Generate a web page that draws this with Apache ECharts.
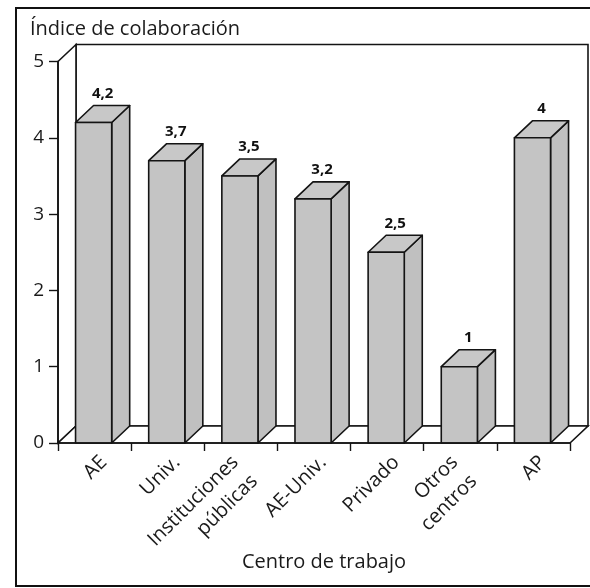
<!DOCTYPE html>
<html><head><meta charset="utf-8">
<script src="https://cdn.jsdelivr.net/npm/echarts@6/dist/echarts.min.js"></script>
<style>html,body{margin:0;padding:0;background:#fff}#c{width:590px;height:588px}</style>
</head><body><div id="c"></div>
<script>
// ---- data ----
const categories = ['AE', 'Univ.', 'Instituciones\npúblicas', 'AE-Univ.', 'Privado', 'Otros\ncentros', 'AP'];
const values = [4.2, 3.7, 3.5, 3.2, 2.5, 1, 4];
const valueLabels = ['4,2', '3,7', '3,5', '3,2', '2,5', '1', '4'];
const yMin = 0, yMax = 5, yStep = 1;
const titleText = 'Índice de colaboración';
const xName = 'Centro de trabajo';

// ---- style ----
const DX = 18, DY = 17;
const LINE = '#141414';
const LW = 1.6;
const FONT = '"Open Sans", "DejaVu Sans", sans-serif';

const chart = echarts.init(document.getElementById('c'), null, {renderer: 'canvas'});

function renderFrame(params, api) {
  const cs = params.coordSys;
  const x0 = cs.x, x1 = cs.x + cs.width, yb = cs.y + cs.height, yt = cs.y;
  const st = {fill: '#fff', stroke: LINE, lineWidth: LW};
  return {type: 'group', children: [
    {type: 'polygon', shape: {points: [[x0 + DX, yt - DY], [x1 + DX, yt - DY], [x1 + DX, yb - DY], [x0 + DX, yb - DY]]}, style: st},
    {type: 'polygon', shape: {points: [[x0, yt], [x0 + DX, yt - DY], [x0 + DX, yb - DY], [x0, yb]]}, style: st},
    {type: 'polygon', shape: {points: [[x0, yb], [x1, yb], [x1 + DX, yb - DY], [x0 + DX, yb - DY]]}, style: st}
  ]};
}

function renderBar(params, api) {
  const idx = api.value(0);
  const v = api.value(1);
  const base = api.coord([idx, 0]);
  const top = api.coord([idx, v]);
  const band = api.size([1, 0])[0];
  const fw = band * 0.494;
  const fl = base[0] - band * 0.26;
  const fr = fl + fw;
  const yb = base[1], yt = top[1];
  const st = {stroke: LINE, lineWidth: LW, lineJoin: 'round'};
  return {type: 'group', children: [
    {type: 'polygon', shape: {points: [[fr, yb], [fr + DX, yb - DY], [fr + DX, yt - DY], [fr, yt]]}, style: Object.assign({fill: '#c0c0c0'}, st)},
    {type: 'polygon', shape: {points: [[fl, yt], [fr, yt], [fr + DX, yt - DY], [fl + DX, yt - DY]]}, style: Object.assign({fill: '#c8c8c8'}, st)},
    {type: 'rect', shape: {x: fl, y: yt, width: fw, height: yb - yt}, style: Object.assign({fill: '#c4c4c4'}, st)},
    {type: 'text', style: {text: valueLabels[idx], x: (fl + fr) / 2 + DX / 2, y: yt - DY - 12,
      align: 'center', verticalAlign: 'middle', fontSize: 15, fontWeight: 'bold', fontFamily: FONT, fill: '#111'}}
  ]};
}

// two-line category labels: first line box kept short so the block sits like the reference
function labelFormatter(value) {
  const lines = value.split('\n');
  if (lines.length === 1) return value;
  return '{l1|' + lines[0] + '  }\n{l2|' + lines[1] + '  }';
}

chart.setOption({
  animation: false,
  backgroundColor: '#fff',
  title: {text: titleText, left: 25, top: 14, textStyle: {fontSize: 20, fontWeight: 'normal', color: '#1a1a1a', fontFamily: FONT}},
  graphic: [{type: 'rect', shape: {x: 16, y: 8, width: 590, height: 578}, style: {fill: 'none', stroke: '#111', lineWidth: 2}, z: 100, silent: true}],
  grid: {left: 58, right: 20, top: 61.5, bottom: 145, containLabel: false, outerBoundsMode: 'none'},
  xAxis: {
    type: 'category', data: categories, boundaryGap: true,
    name: xName, nameLocation: 'middle', nameGap: 109, nameMoveOverlap: false,
    nameTextStyle: {fontSize: 20, color: '#1a1a1a', fontFamily: FONT, verticalAlign: 'top', padding: [0, 0, 0, 20]},
    axisLine: {show: true, lineStyle: {color: LINE, width: LW}},
    axisTick: {show: true, length: 8, lineStyle: {color: LINE, width: 1.4}},
    axisLabel: {interval: 0, rotate: 45, fontSize: 20, color: '#1a1a1a', fontFamily: FONT, margin: 7,
      align: 'right', verticalAlign: 'top', lineHeight: 26, formatter: labelFormatter,
      rich: {
        l1: {fontSize: 20, fontFamily: FONT, color: '#1a1a1a', lineHeight: 5},
        l2: {fontSize: 20, fontFamily: FONT, color: '#1a1a1a', lineHeight: 49}
      }},
    splitLine: {show: false}, z: 10
  },
  yAxis: {
    type: 'value', min: yMin, max: yMax, interval: yStep,
    axisLine: {show: true, lineStyle: {color: LINE, width: LW}},
    axisTick: {show: true, length: 9, lineStyle: {color: LINE, width: 1.4}},
    axisLabel: {fontSize: 19, color: '#1a1a1a', fontFamily: FONT, margin: 14},
    splitLine: {show: false}, z: 10
  },
  series: [
    {type: 'custom', name: 'frame', renderItem: renderFrame, data: [[0, 0]], z: 1, silent: true, clip: false},
    {type: 'custom', name: 'bars', renderItem: renderBar, data: values.map((v, i) => [i, v]), encode: {x: 0, y: 1}, z: 2, clip: false}
  ]
});
</script></body></html>
